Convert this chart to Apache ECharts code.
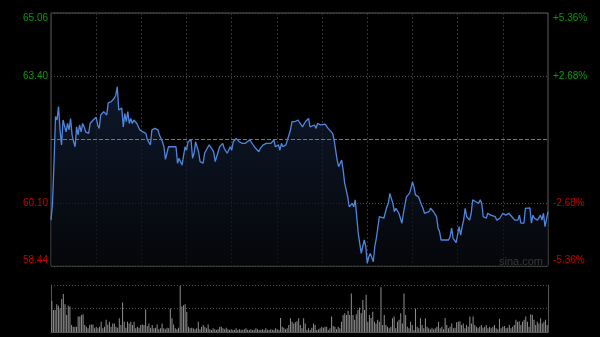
<!DOCTYPE html>
<html><head><meta charset="utf-8">
<script src="https://cdn.jsdelivr.net/npm/echarts@6/dist/echarts.min.js"></script>
<style>html,body{margin:0;padding:0;background:#000;}#c{width:600px;height:337px;}</style>
</head><body><div id="c"></div>
<script>
// minute index since open (HK session, 330 minutes) and price
const minutes = [0,1,2,3,4,5,6,7,8,10,11,12,13,14,15,16,17,18,19,20,21,22,23,25,26,28,30,31,32,33,35,37,38,40,42,43,44,45,47,48,49,50,51,52,53,54,55,57,58,59,61,63,64,66,67,69,71,72,74,75,76,78,80,83,84,85,86,87,89,90,91,92,93,94,95,96,98,99,101,102,103,105,106,108,109,111,112,114,115,117,118,119,120,121,123,124,125,127,129,130,132,133,135,136,138,139,141,143,144,146,148,149,151,152,153,154,156,157,159,160,162,163,164,165,167,168,169,171,172,173,175,176,177,179,180,182,184,185,187,188,189,190,191,192,193,194,195,196,197,198,200,201,202,203,204,205,206,207,208,209,210,211,212,214,215,216,217,218,219,221,222,223,224,225,227,228,229,230,231,233,234,235,236,238,239,240,241,242,244,245,246,247,248,249,251,252,253,254,256,257,258,259,260,262,263,264,265,266,267,268,269,270,271,272,273,274,275,276,277,278,279,280,282,283,284,285,286,287,288,289,290,292,293,295,296,298,299,300,302,303,304,306,307,308,310,311,312,313,314,315,316,318,319,320,321,322,323,324,325,326,327,328,330];
const prices = [59.64,60.08,61.14,62.35,62.26,62.61,62.00,61.61,62.26,61.95,62.17,62.00,62.30,61.87,61.69,61.56,62.08,61.87,62.13,61.95,62.17,62.08,61.95,61.91,62.17,62.26,62.33,62.13,62.04,62.39,62.48,62.39,62.71,62.74,62.83,62.91,63.13,62.52,62.57,62.08,62.43,62.22,62.48,62.17,62.30,62.17,62.26,62.17,62.13,62.00,61.95,61.91,61.74,61.61,62.00,62.04,62.00,61.87,61.69,61.56,61.23,61.56,61.56,61.56,61.13,61.26,61.17,61.08,61.56,61.47,61.69,61.65,61.74,61.26,61.39,61.69,61.43,61.17,61.13,61.39,61.47,61.61,61.56,61.43,61.17,61.43,61.56,61.65,61.52,61.39,61.39,61.56,61.47,61.69,61.78,61.82,61.69,61.65,61.65,61.69,61.74,61.69,61.56,61.52,61.43,61.52,61.61,61.65,61.69,61.65,61.74,61.56,61.61,61.47,61.65,61.56,61.61,61.74,62.00,62.22,62.22,62.26,62.26,62.22,62.08,62.13,62.22,62.30,62.08,62.08,62.13,62.04,62.17,62.13,62.17,62.15,62.04,62.02,61.91,61.74,61.47,61.21,61.04,61.13,61.21,60.95,60.60,60.43,60.25,59.99,60.08,59.99,60.17,59.73,59.30,59.03,58.77,58.95,59.12,58.95,58.51,58.68,58.77,58.55,58.95,59.16,59.16,59.73,59.77,59.69,59.73,59.99,60.08,60.34,60.08,59.86,59.95,59.95,59.82,59.56,59.82,60.04,60.25,60.34,60.47,60.64,60.51,60.30,60.25,60.21,60.04,59.95,59.82,59.86,59.86,59.95,59.99,59.86,59.73,59.43,59.34,59.12,59.08,59.12,59.08,59.12,59.21,59.43,59.16,59.12,59.05,59.03,59.47,59.25,59.47,59.64,59.95,59.73,59.69,59.64,59.82,60.17,60.12,60.17,60.08,60.17,60.08,59.73,59.73,59.69,59.82,59.77,59.77,59.73,59.64,59.69,59.73,59.82,59.77,59.77,59.82,59.73,59.69,59.64,59.64,59.77,59.56,59.56,59.56,59.95,59.95,59.96,59.56,59.77,59.69,59.73,59.64,59.69,59.77,59.64,59.82,59.47,59.86];
const volumes = [66,47,47,59,56,50,70,81,59,36,56,54,15,11,11,11,33,33,36,38,15,11,8,15,16,16,8,11,8,11,22,8,11,26,16,22,11,18,18,11,9,29,15,63,22,9,22,18,22,15,22,8,11,9,15,16,15,48,13,18,9,15,8,9,16,6,8,18,8,6,9,8,50,29,16,8,6,9,98,54,57,59,43,11,8,9,8,6,8,22,6,11,15,11,8,16,6,4,8,6,4,6,11,11,8,6,9,6,4,6,4,5,8,4,6,5,4,6,8,5,4,6,4,5,8,6,4,5,6,4,8,5,4,6,5,4,8,6,4,30,11,9,6,8,15,29,22,18,21,23,29,15,8,29,18,4,8,4,9,18,15,4,6,8,11,9,11,11,4,8,33,13,11,6,11,8,22,36,40,36,45,36,82,36,26,38,47,52,40,68,47,79,22,36,30,43,22,18,26,22,95,15,36,15,11,8,11,29,33,8,22,26,40,18,82,36,11,8,22,15,4,50,11,8,29,15,8,29,11,8,6,9,6,8,11,22,8,11,6,30,15,8,11,18,8,9,21,22,23,15,18,8,15,11,33,18,33,15,11,8,11,15,9,11,15,8,11,8,11,15,8,6,28,8,11,13,8,9,15,8,11,15,26,22,23,15,22,26,33,22,11,38,36,26,15,22,18,29,18,22,26,15];
const prevClose = 61.75;
const priceMin = 58.44, priceMax = 65.06;
const priceTicks = ['58.44','60.10','','63.40','65.06'];
const pctTicks = ['-5.36%','-2.68%','','+2.68%','+5.36%'];
const watermark = 'sina.com';

const FONT = "'Liberation Sans', Arial, sans-serif";
const step = (priceMax - priceMin) / 4;
function tickIndex(v) { return Math.round((v - priceMin) / step); }
function makeFmt(arr) {
  return function (v) {
    const i = tickIndex(v);
    const t = arr[i];
    if (!t) return '';
    const s = (i >= 2 ? 'g' : 'r') + (i === 4 ? 't' : (i === 0 ? 'b' : ''));
    return '{' + s + '|' + t + '}';
  };
}
const base = { fontSize: 10, fontFamily: FONT };
const rich = {
  g: Object.assign({ color: '#0a9a0a' }, base),
  gt: Object.assign({ color: '#0a9a0a', padding: [10, 0, 0, 0] }, base),
  r: Object.assign({ color: '#c80000' }, base),
  rb: Object.assign({ color: '#c80000', padding: [0, 0, 12, 0] }, base)
};

const chart = echarts.init(document.getElementById('c'), null, { renderer: 'canvas' });
chart.setOption({
  backgroundColor: '#000',
  animation: false,
  graphic: [{
    type: 'text', left: 499, top: 256, silent: true,
    style: { text: watermark, fill: '#9a9a9a', font: '11px ' + FONT }
  }],
  grid: [
    { left: 51, top: 13, width: 497, height: 253, show: true, borderColor: '#5a5a5a', borderWidth: 1, backgroundColor: 'transparent' },
    { left: 51, top: 285, width: 497, height: 47, show: false }
  ],
  xAxis: [
    { type: 'value', gridIndex: 0, min: 0, max: 330, interval: 30,
      axisLine: { show: false }, axisTick: { show: false }, axisLabel: { show: false },
      splitLine: { show: true, lineStyle: { color: '#333', type: [2, 2], width: 1 } } },
    { type: 'category', gridIndex: 1, data: volumes.map((_, i) => i), boundaryGap: true,
      axisLine: { show: true, lineStyle: { color: '#555' } }, axisTick: { show: false }, axisLabel: { show: false },
      splitLine: { show: false } }
  ],
  yAxis: [
    { type: 'value', gridIndex: 0, min: priceMin, max: priceMax, interval: step, position: 'left',
      axisLine: { show: false }, axisTick: { show: false },
      axisLabel: { show: true, margin: 3, showMinLabel: true, showMaxLabel: true, formatter: makeFmt(priceTicks), rich: rich },
      splitLine: { show: true, lineStyle: { color: '#4a4a4a', type: [1, 2], width: 1 } } },
    { type: 'value', gridIndex: 0, min: priceMin, max: priceMax, interval: step, position: 'right',
      axisLine: { show: false }, axisTick: { show: false },
      axisLabel: { show: true, margin: 5, showMinLabel: true, showMaxLabel: true, formatter: makeFmt(pctTicks), rich: rich },
      splitLine: { show: false } },
    { type: 'value', gridIndex: 1, min: 0, max: 100, interval: 50, position: 'left',
      axisLine: { show: true, lineStyle: { color: '#555' } }, axisTick: { show: false }, axisLabel: { show: false },
      splitLine: { show: true, lineStyle: { color: '#4a4a4a', type: [1, 2], width: 1 } } },
    { type: 'value', gridIndex: 1, min: 0, max: 100, interval: 50, position: 'right',
      axisLine: { show: true, lineStyle: { color: '#555' } }, axisTick: { show: false }, axisLabel: { show: false },
      splitLine: { show: false } }
  ],
  series: [
    { type: 'line', xAxisIndex: 0, yAxisIndex: 0,
      data: minutes.map((m, i) => [m, prices[i]]),
      showSymbol: false, symbol: 'none',
      lineStyle: { color: '#4f86de', width: 1.3 },
      areaStyle: { origin: 'start', color: new echarts.graphic.LinearGradient(0, 0, 0, 1, [
        { offset: 0, color: '#14223c' }, { offset: 1, color: '#07090e' }]) },
      markLine: { silent: true, symbol: 'none', label: { show: false },
        lineStyle: { color: '#777', type: [4, 2], width: 1 },
        data: [{ yAxis: prevClose }] },
      z: 3 },
    { type: 'bar', xAxisIndex: 1, yAxisIndex: 2, data: volumes, barWidth: 1,
      itemStyle: { color: '#8f8f8f' } }
  ]
});
</script>
</body></html>
